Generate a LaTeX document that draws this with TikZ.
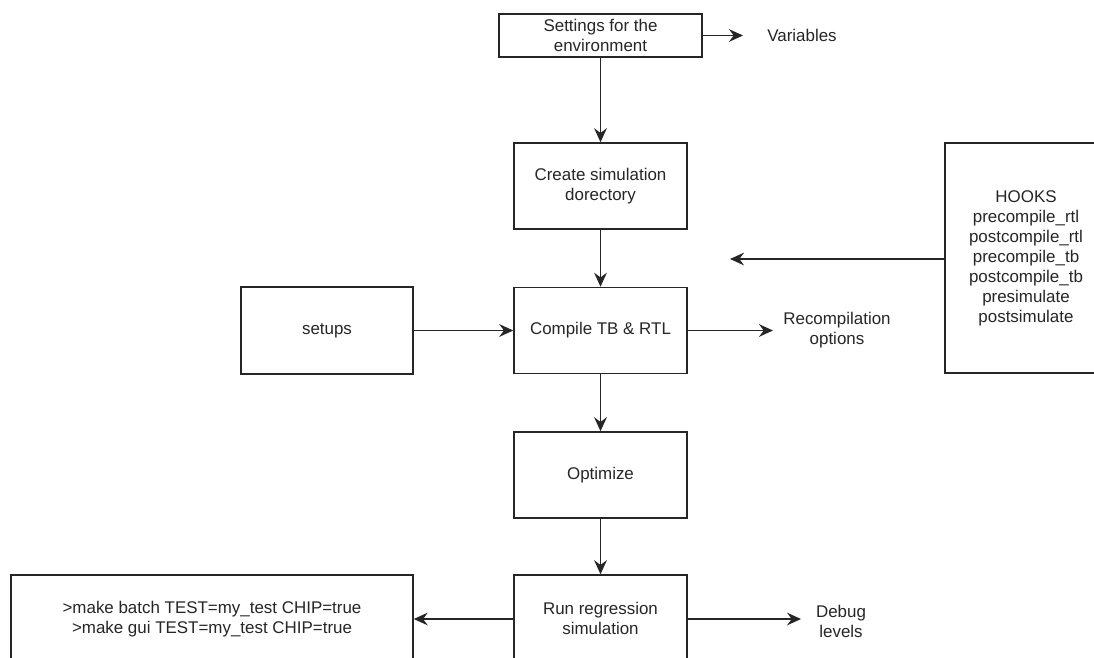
\documentclass[tikz,border=0pt]{standalone}
\usepackage{fontspec}
\setmainfont{Liberation Sans}
\usetikzlibrary{arrows.meta}
\begin{document}
\begin{tikzpicture}[x=0.75pt,y=-0.75pt,
  txt/.style={font=\fontsize{12.7}{15}\selectfont, text=black!85},
  box/.style={txt, draw=black!85, line width=1.1pt, fill=white, inner sep=0pt, align=center},
  sz/.style 2 args={minimum width=#1*0.75pt, minimum height=#2*0.75pt},
  lbl/.style={txt, inner sep=0pt, align=center},
  arr/.style={draw=black!85, line width=1.1pt, -{Stealth[length=10.5pt,width=9.5pt,inset=3.5pt]}}]
\clip (0,0) rectangle (1094,657);
\fill[white] (0,0) rectangle (1094,657);

% main column
\node[box, sz={203}{43}] (settings) at (600.5,35.5) {Settings for the\\environment};
\node[box, sz={173}{86}] (create) at (600.5,186) {Create simulation\\dorectory};
\node[box, sz={173}{86}] (compile) at (600.5,330.5) {Compile TB \& RTL};
\node[box, sz={173}{86}] (optimize) at (600.5,475) {Optimize};
\node[box, sz={173}{87}] (run) at (600.5,618.5) {Run regression\\simulation};

% side boxes
\node[box, sz={172}{87}] (setups) at (327,330.5) {setups};
\node[box, sz={402}{88}] (cmd) at (212,619) {>make batch TEST=my\_test CHIP=true\\>make gui TEST=my\_test CHIP=true};
\node[box, sz={162}{230}] (hooks) at (1026,258) {HOOKS\\precompile\_rtl\\postcompile\_rtl\\precompile\_tb\\postcompile\_tb\\presimulate\\postsimulate};

% free labels
\node[lbl] (vars) at (802,35.5) {Variables};
\node[lbl] (recomp) at (837,330.5) {Recompilation\\options};
\node[lbl] (debug) at (841,621) {Debug\\levels};

% free arrow ends
\coordinate (varsEnd) at (743,35.5);
\coordinate (hooksEnd) at (730,259);
\coordinate (recompEnd) at (773,330.5);
\coordinate (debugEnd) at (801,619);

% connectors
\draw[arr] (settings) -- (create);
\draw[arr] (create) -- (compile);
\draw[arr] (compile) -- (optimize);
\draw[arr] (optimize) -- (run);
\draw[arr] (settings.east) -- (varsEnd);
\draw[arr] (hooks.west |- hooksEnd) -- (hooksEnd);
\draw[arr] (setups) -- (compile);
\draw[arr] (compile.east) -- (recompEnd);
\draw[arr] (run.west |- cmd.east) -- (cmd.east);
\draw[arr] (run.east |- debugEnd) -- (debugEnd);
\end{tikzpicture}
\end{document}
